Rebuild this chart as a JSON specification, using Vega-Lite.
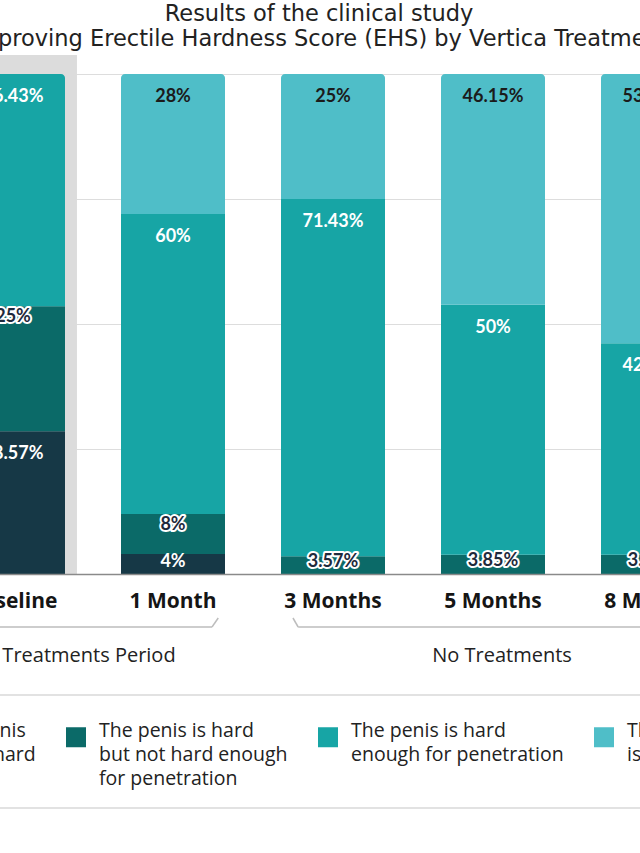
{
  "$schema": "https://vega.github.io/schema/vega-lite/v6.json",
  "width": 800,
  "height": 500,
  "autosize": {"type": "none"},
  "padding": {"left": -67, "top": 74, "right": -93, "bottom": 279},
  "background": "white",
  "title": {
    "text": ["Results of the clinical study", "Improving Erectile Hardness Score (EHS) by Vertica Treatment"],
    "font": "DejaVu Sans",
    "fontSize": 22.5,
    "fontWeight": "normal",
    "color": "#222222",
    "anchor": "middle",
    "dx": -14,
    "offset": -18,
    "baseline": "bottom",
    "lineHeight": 25
  },
  "config": {
    "view": {"stroke": null},
    "text": {"font": "Lato", "fontWeight": "bold", "fontSize": 18, "baseline": "middle", "align": "center"},
    "style": {"guide-label": {"lineHeight": 24}}
  },
  "datasets": {
    "ehs": [
      {"period": "Baseline", "grade": 1, "level": "The penis is not hard", "value": 0.2857},
      {"period": "Baseline", "grade": 2, "level": "The penis is hard but not hard enough for penetration", "value": 0.25},
      {"period": "Baseline", "grade": 3, "level": "The penis is hard enough for penetration", "value": 0.4643},
      {"period": "Baseline", "grade": 4, "level": "The penis is completely hard", "value": 0},
      {"period": "1 Month", "grade": 1, "level": "The penis is not hard", "value": 0.04},
      {"period": "1 Month", "grade": 2, "level": "The penis is hard but not hard enough for penetration", "value": 0.08},
      {"period": "1 Month", "grade": 3, "level": "The penis is hard enough for penetration", "value": 0.60},
      {"period": "1 Month", "grade": 4, "level": "The penis is completely hard", "value": 0.28},
      {"period": "3 Months", "grade": 1, "level": "The penis is not hard", "value": 0},
      {"period": "3 Months", "grade": 2, "level": "The penis is hard but not hard enough for penetration", "value": 0.0357},
      {"period": "3 Months", "grade": 3, "level": "The penis is hard enough for penetration", "value": 0.7143},
      {"period": "3 Months", "grade": 4, "level": "The penis is completely hard", "value": 0.25},
      {"period": "5 Months", "grade": 1, "level": "The penis is not hard", "value": 0},
      {"period": "5 Months", "grade": 2, "level": "The penis is hard but not hard enough for penetration", "value": 0.0385},
      {"period": "5 Months", "grade": 3, "level": "The penis is hard enough for penetration", "value": 0.50},
      {"period": "5 Months", "grade": 4, "level": "The penis is completely hard", "value": 0.4615},
      {"period": "8 Months", "grade": 1, "level": "The penis is not hard", "value": 0},
      {"period": "8 Months", "grade": 2, "level": "The penis is hard but not hard enough for penetration", "value": 0.0385},
      {"period": "8 Months", "grade": 3, "level": "The penis is hard enough for penetration", "value": 0.4231},
      {"period": "8 Months", "grade": 4, "level": "The penis is completely hard", "value": 0.5385}
    ]
  },
  "layer": [
    {
      "data": {"values": [{}]},
      "mark": {"type": "bar", "color": "#dcdcdc", "width": {"band": 1.23}},
      "encoding": {
        "x": {"datum": "Baseline", "type": "nominal"},
        "y": {"datum": 0, "type": "quantitative"},
        "y2": {"datum": 1.038}
      }
    },
    {
      "data": {"name": "ehs"},
      "transform": [
        {"stack": "value", "groupby": ["period"], "sort": [{"field": "grade", "order": "ascending"}], "as": ["v0", "v1"]}
      ],
      "encoding": {
        "x": {
          "field": "period",
          "type": "nominal",
          "sort": null,
          "scale": {"domain": ["Baseline", "1 Month", "3 Months", "5 Months", "8 Months"], "paddingInner": 0.35, "paddingOuter": 0.175},
          "axis": {
            "title": null,
            "labelAngle": 0,
            "labelAlign": "center",
            "labelBaseline": "top",
            "labelFont": "Open Sans",
            "labelFontWeight": "bold",
            "labelFontSize": 21,
            "labelColor": "#151515",
            "labelPadding": 16,
            "ticks": false,
            "domainColor": "#8a8a8a",
            "domainWidth": 1.5,
            "grid": false,
            "zindex": 1
          }
        }
      },
      "layer": [
        {
          "transform": [{"filter": "datum.v1 < 0.999"}],
          "mark": {"type": "bar"},
          "encoding": {
            "y": {
              "field": "v0",
              "type": "quantitative",
              "scale": {"domain": [0, 1]},
              "axis": {"title": null, "labels": false, "ticks": false, "domain": false, "grid": true, "gridColor": "#dddddd", "gridWidth": 1.2, "values": [0, 0.25, 0.5, 0.75, 1]}
            },
            "y2": {"field": "v1"},
            "color": {
              "field": "level",
              "type": "nominal",
              "scale": {
                "domain": ["The penis is not hard", "The penis is hard but not hard enough for penetration", "The penis is hard enough for penetration", "The penis is completely hard"],
                "range": ["#163846", "#0b6a68", "#17a5a5", "#4fbec8"]
              },
              "legend": {
                "title": null,
                "orient": "none",
                "legendX": -28,
                "legendY": 653,
                "direction": "horizontal",
                "columns": 4,
                "gridAlign": "each",
                "columnPadding": 30,
                "symbolType": "square",
                "symbolSize": 400,
                "symbolStrokeWidth": 0,
                "symbolOpacity": 1,
                "labelFont": "Open Sans",
                "labelFontSize": 19.5,
                "labelColor": "#222222",
                "labelOffset": 13,
                "labelLimit": 500,
                "labelBaseline": "alphabetic",
                "labelExpr": "datum.label == 'The penis is not hard' ? ['The penis', 'is not hard', ''] : datum.label == 'The penis is hard but not hard enough for penetration' ? ['The penis is hard', 'but not hard enough', 'for penetration'] : datum.label == 'The penis is hard enough for penetration' ? ['The penis is hard', 'enough for penetration', ''] : ['The penis', 'is completely hard', '']"
              }
            }
          }
        },
        {
          "transform": [{"filter": "datum.v1 >= 0.999 && datum.value > 0"}],
          "mark": {"type": "bar", "cornerRadiusTopLeft": 4, "cornerRadiusTopRight": 4},
          "encoding": {
            "y": {"field": "v0", "type": "quantitative"},
            "y2": {"field": "v1"},
            "color": {"field": "level", "type": "nominal"}
          }
        },
        {
          "transform": [{"filter": "datum.grade == 4 && datum.value > 0"}],
          "mark": {"type": "text", "dy": 23, "color": "#1b1b1b"},
          "encoding": {"y": {"field": "v1", "type": "quantitative"}, "text": {"field": "value", "type": "quantitative", "format": ".2~%"}}
        },
        {
          "transform": [{"filter": "datum.grade == 3 || (datum.grade == 1 && datum.value >= 0.1)"}],
          "mark": {"type": "text", "dy": 23, "color": "white"},
          "encoding": {"y": {"field": "v1", "type": "quantitative"}, "text": {"field": "value", "type": "quantitative", "format": ".2~%"}}
        },
        {
          "transform": [{"filter": "datum.grade == 1 && datum.value > 0 && datum.value < 0.1"}],
          "mark": {"type": "text", "dy": 8, "color": "white"},
          "encoding": {"y": {"field": "v1", "type": "quantitative"}, "text": {"field": "value", "type": "quantitative", "format": ".2~%"}}
        },
        {
          "transform": [{"filter": "datum.grade == 2 && datum.value >= 0.05"}],
          "encoding": {"y": {"field": "v1", "type": "quantitative"}, "text": {"field": "value", "type": "quantitative", "format": ".2~%"}},
          "layer": [
            {"mark": {"type": "text", "dy": 11, "color": "white", "stroke": "white", "strokeWidth": 4, "strokeJoin": "round"}},
            {"mark": {"type": "text", "dy": 11, "color": "#1f2a3c"}}
          ]
        },
        {
          "transform": [{"filter": "datum.grade == 2 && datum.value < 0.05"}],
          "encoding": {"y": {"field": "v1", "type": "quantitative"}, "text": {"field": "value", "type": "quantitative", "format": ".2~%"}},
          "layer": [
            {"mark": {"type": "text", "dy": 6, "color": "white", "stroke": "white", "strokeWidth": 4, "strokeJoin": "round"}},
            {"mark": {"type": "text", "dy": 6, "color": "#1f2a3c"}}
          ]
        }
      ]
    },
    {
      "data": {"values": [{}]},
      "mark": {"type": "rule", "color": "#bdbdbd", "strokeWidth": 1.5},
      "encoding": {
        "x": {"datum": "Baseline", "type": "nominal", "bandPosition": 0},
        "x2": {"datum": "1 Month", "bandPosition": 0.875},
        "y": {"datum": -0.106, "type": "quantitative"}
      }
    },
    {
      "data": {"values": [{}]},
      "mark": {"type": "rule", "color": "#bdbdbd", "strokeWidth": 1.5},
      "encoding": {
        "x": {"datum": "1 Month", "type": "nominal", "bandPosition": 0.875},
        "x2": {"datum": "1 Month", "bandPosition": 0.935},
        "y": {"datum": -0.106, "type": "quantitative"},
        "y2": {"datum": -0.088}
      }
    },
    {
      "data": {"values": [{}]},
      "mark": {"type": "rule", "color": "#bdbdbd", "strokeWidth": 1.5},
      "encoding": {
        "x": {"datum": "3 Months", "type": "nominal", "bandPosition": 0.115},
        "x2": {"datum": "3 Months", "bandPosition": 0.165},
        "y": {"datum": -0.088, "type": "quantitative"},
        "y2": {"datum": -0.106}
      }
    },
    {
      "data": {"values": [{}]},
      "mark": {"type": "rule", "color": "#bdbdbd", "strokeWidth": 1.5},
      "encoding": {
        "x": {"datum": "3 Months", "type": "nominal", "bandPosition": 0.165},
        "x2": {"datum": "8 Months", "bandPosition": 0.9},
        "y": {"datum": -0.106, "type": "quantitative"}
      }
    },
    {
      "data": {"values": [{}]},
      "mark": {"type": "text", "font": "Open Sans", "fontWeight": "normal", "fontSize": 20, "color": "#222222", "dx": 76},
      "encoding": {
        "x": {"datum": "Baseline", "type": "nominal", "bandPosition": 0.5},
        "y": {"datum": -0.164, "type": "quantitative"},
        "text": {"value": "Treatments Period"}
      }
    },
    {
      "data": {"values": [{}]},
      "mark": {"type": "text", "font": "Open Sans", "fontWeight": "normal", "fontSize": 20, "color": "#222222", "dx": 9},
      "encoding": {
        "x": {"datum": "5 Months", "type": "nominal", "bandPosition": 0.5},
        "y": {"datum": -0.164, "type": "quantitative"},
        "text": {"value": "No Treatments"}
      }
    },
    {
      "data": {"values": [{}]},
      "mark": {"type": "rule", "color": "#e2e2e2", "strokeWidth": 2},
      "encoding": {"y": {"datum": -0.242, "type": "quantitative"}}
    },
    {
      "data": {"values": [{}]},
      "mark": {"type": "rule", "color": "#e2e2e2", "strokeWidth": 2},
      "encoding": {"y": {"datum": -0.468, "type": "quantitative"}}
    }
  ]
}
